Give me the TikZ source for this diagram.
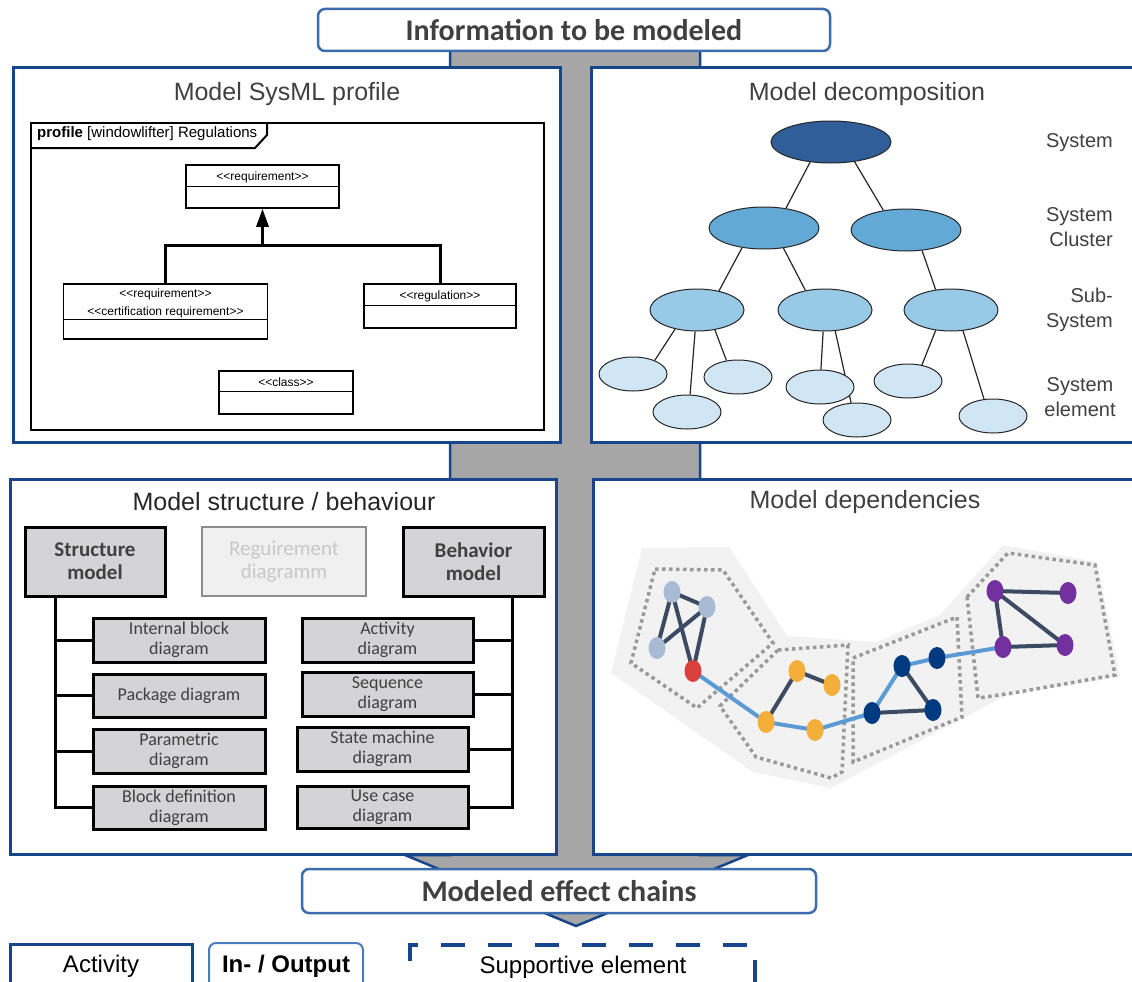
\documentclass[tikz,border=0pt]{standalone}
\usepackage{fontspec}
\setmainfont{Liberation Sans}
\newfontfamily\carl{Carlito}
\newfontfamily\umlf{Liberation Sans}
\usetikzlibrary{shapes.geometric,arrows.meta}
\pgfdeclarelayer{back}
\pgfdeclarelayer{mid}
\pgfsetlayers{back,mid,main}
\definecolor{pblue}{HTML}{16458C}
\definecolor{tblue}{HTML}{3B6CAE}
\definecolor{lblue}{HTML}{4A7CC0}
\definecolor{spinec}{HTML}{A6A6A6}
\definecolor{ttext}{HTML}{404040}
\definecolor{lvlA}{HTML}{2F5E98}
\definecolor{lvlB}{HTML}{63A9D6}
\definecolor{lvlC}{HTML}{98C9E7}
\definecolor{lvlD}{HTML}{D0E6F5}
\definecolor{bgpoly}{HTML}{F2F2F2}
\definecolor{dotc}{HTML}{9A9A9A}
\definecolor{edgec}{HTML}{3C4A62}
\definecolor{pathc}{HTML}{5B9BD5}
\definecolor{nlb}{HTML}{A9BAD4}
\definecolor{nred}{HTML}{D9413F}
\definecolor{nor}{HTML}{F4AF3A}
\definecolor{ndb}{HTML}{003A80}
\definecolor{npu}{HTML}{7331A0}
\definecolor{sboxc}{HTML}{D4D4D6}
\definecolor{rqfill}{HTML}{F0F0F0}
\definecolor{rqtext}{HTML}{C8C8C8}
\begin{document}
\begin{tikzpicture}[x=1pt,y=-1pt,
  panel/.style={draw=pblue, line width=3pt, fill=white},
  ptitle/.style={inner sep=0pt, text=ttext, font=\fontsize{25}{30}\selectfont},
  infobox/.style={draw=tblue, line width=2.5pt, fill=white, rounded corners=7pt, inner sep=0pt,
     text=ttext, font=\carl\bfseries\fontsize{30}{34}\selectfont},
  umlbox/.style={draw=black, line width=1.5pt, fill=white, inner sep=0pt},
  umltext/.style={inner sep=0pt, align=center, font=\umlf\fontsize{12}{18}\selectfont},
  umlline/.style={draw=black, line width=1.5pt},
  genline/.style={draw=black, line width=3pt},
  tnode/.style={ellipse, draw=black!85, line width=1pt, inner sep=0pt},
  tedge/.style={draw=black!85, line width=1.2pt},
  tlabel/.style={inner sep=0pt, text=ttext, font=\fontsize{20}{25}\selectfont},
  mainbox/.style={draw=black, line width=3pt, fill=sboxc, inner sep=0pt, align=center, text=ttext,
     font=\carl\bfseries\fontsize{21}{23}\selectfont},
  subbox/.style={draw=black, line width=3pt, fill=sboxc, inner sep=0pt, align=center, text=ttext,
     font=\carl\fontsize{18}{20}\selectfont},
  busline/.style={draw=black, line width=3pt},
  dotpoly/.style={draw=dotc, line width=3.5pt, dash pattern=on 3.5pt off 3.5pt},
  dnode/.style={ellipse, inner sep=0pt, minimum width=17pt, minimum height=22pt},
  dedge/.style={draw=edgec, line width=4pt},
  pedge/.style={draw=pathc, line width=4pt},
  legtext/.style={inner sep=0pt, text=black, font=\fontsize{24}{28}\selectfont}
]
\useasboundingbox (0,0) rectangle (1132,982);

% ---------- background spine and panels ----------
\begin{pgfonlayer}{back}
\draw[draw=pblue, line width=2.5pt, fill=spinec] (450,40) -- (700,40) -- (700,855) -- (748,855)
   -- (576,926) -- (405,855) -- (450,855) -- cycle;
\draw[panel] (13,68) rectangle (560,442);
\draw[panel] (591,68) rectangle (1145,442);
\draw[panel] (10,479) rectangle (556,854);
\draw[panel] (593,479) rectangle (1145,854);
% dependency background
\fill[bgpoly] (642,548) -- (729,547) -- (787,636) -- (876,642) -- (940,615) -- (1003,545)
   -- (1097,562) -- (1120,677) -- (1007,695) -- (831,788) -- (753,772) -- (611,673) -- cycle;
\draw[dotpoly] (655,569) -- (723,570) -- (773,643) -- (697,708) -- (631,663) -- cycle;
\draw[dotpoly] (778,650) -- (848,645) -- (842,772) -- (831,778) -- (756,757) -- (720,706) -- cycle;
\draw[dotpoly] (853,658) -- (957,617) -- (962,717) -- (853,762) -- cycle;
\draw[dotpoly] (967,597) -- (1008,553) -- (1095,565) -- (1115,675) -- (1013,693) -- (978,698) -- cycle;
\end{pgfonlayer}

% ---------- top and bottom boxes ----------
\node[infobox, minimum width=512pt, minimum height=42pt] (info) at (574,30) {Information to be modeled};
\node[infobox, minimum width=514pt, minimum height=44pt] (chains) at (559,891) {Modeled effect chains};

% ---------- panel titles ----------
\node[ptitle] (t1) at (287,94) {Model SysML profile};
\node[ptitle] (t2) at (867,94) {Model decomposition};
\node[ptitle, text=black!85] (t3) at (284,502) {Model structure / behaviour};
\node[ptitle] (t4) at (865,502) {Model dependencies};

% ---------- Panel 1: SysML profile ----------
\draw[draw=black, line width=2.5pt] (31,123) rectangle (544,430);
\draw[draw=black, line width=2pt] (31,148) -- (255,148) -- (267,135) -- (267,123);
\node[anchor=west, inner sep=0pt, font=\umlf\fontsize{15}{18}\selectfont] (ftab) at (37,134)
   {\textbf{profile} [windowlifter] Regulations};
\node[umlbox, minimum width=153pt, minimum height=43pt] (req) at (262.5,186.5) {};
\node[umlbox, minimum width=204pt, minimum height=55pt] (cert) at (165.5,311.5) {};
\node[umlbox, minimum width=152pt, minimum height=44pt] (reg) at (440,306) {};
\node[umlbox, minimum width=134pt, minimum height=43pt] (cls) at (286,392.5) {};
\draw[umlline] ([yshift=-22pt]req.north west) -- ([yshift=-22pt]req.north east);
\draw[umlline] ([yshift=-36pt]cert.north west) -- ([yshift=-36pt]cert.north east);
\draw[umlline] ([yshift=-22pt]reg.north west) -- ([yshift=-22pt]reg.north east);
\draw[umlline] ([yshift=-21pt]cls.north west) -- ([yshift=-21pt]cls.north east);
\node[umltext] (reqt) at (262.5,177) {<<requirement>>};
\node[umltext] (certt) at (165.5,303) {<<requirement>>\\<<certification requirement>>};
\node[umltext] (regt) at (440,296) {<<regulation>>};
\node[umltext] (clst) at (286,382) {<<class>>};
\coordinate (gj) at (262.5,245);
\draw[genline] (cert.north) |- (reg.north |- gj) -- (reg.north);
\draw[genline, -{Triangle[length=18pt,width=12pt]}] (gj) -- (req.south);

% ---------- Panel 2: decomposition ----------
\node[tnode, fill=lvlA, minimum width=120pt, minimum height=42pt] (sys) at (831,142) {};
\node[tnode, fill=lvlB, minimum width=110pt, minimum height=42pt] (cl1) at (764,228) {};
\node[tnode, fill=lvlB, minimum width=110pt, minimum height=42pt] (cl2) at (906,230) {};
\node[tnode, fill=lvlC, minimum width=94pt, minimum height=42pt] (sb1) at (697,310) {};
\node[tnode, fill=lvlC, minimum width=94pt, minimum height=42pt] (sb2) at (825,310) {};
\node[tnode, fill=lvlC, minimum width=94pt, minimum height=42pt] (sb3) at (951,310) {};
\node[tnode, fill=lvlD, minimum width=68pt, minimum height=34pt] (el1) at (633,374) {};
\node[tnode, fill=lvlD, minimum width=68pt, minimum height=34pt] (el2) at (687,412) {};
\node[tnode, fill=lvlD, minimum width=68pt, minimum height=34pt] (el3) at (738,377) {};
\node[tnode, fill=lvlD, minimum width=68pt, minimum height=34pt] (el4) at (820,387) {};
\node[tnode, fill=lvlD, minimum width=68pt, minimum height=34pt] (el5) at (857,420) {};
\node[tnode, fill=lvlD, minimum width=68pt, minimum height=34pt] (el6) at (908,381) {};
\node[tnode, fill=lvlD, minimum width=68pt, minimum height=34pt] (el7) at (993,416) {};
\begin{pgfonlayer}{mid}
\draw[tedge] (sys.224) -- (cl1.42);
\draw[tedge] (sys.320) -- (cl2.139);
\draw[tedge] (cl1.222) -- (sb1.41);
\draw[tedge] (cl1.314) -- (sb2.135);
\draw[tedge] (cl2.308) -- (sb3.127);
\draw[tedge] (sb1.221) -- (el1.32);
\draw[tedge] (sb1.265) -- (el2.80);
\draw[tedge] (sb1.312) -- (el3.125);
\draw[tedge] (sb2.265) -- (el4.87);
\draw[tedge] (sb2.296) -- (el5.109);
\draw[tedge] (sb3.233) -- (el6.49);
\draw[tedge] (sb3.300) -- (el7.118);
\end{pgfonlayer}
\node[tlabel, anchor=east] (lsys) at (1113,143) {System};
\node[tlabel, anchor=east, align=right] (lclu) at (1113,227) {System\\Cluster};
\node[tlabel, anchor=east, align=right] (lsub) at (1113,310) {Sub-\\System};
\node[tlabel, align=center] (lele) at (1080,397) {System\\element};

% ---------- Panel 3: structure / behaviour ----------
\node[mainbox, minimum width=140pt, minimum height=69pt] (smod) at (95,561.5) {Structure\\model};
\node[mainbox, draw=black!45, line width=2pt, fill=rqfill, text=rqtext, font=\carl\fontsize{21}{23}\selectfont,
   minimum width=164pt, minimum height=69pt] (rdiag) at (284,561.5) {Reguirement\\diagramm};
\node[mainbox, minimum width=141pt, minimum height=69pt] (bmod) at (473.5,561.5) {Behavior\\model};
\node[subbox, minimum width=172pt, minimum height=44pt] (ibd) at (179,640) {Internal block\\diagram};
\node[subbox, minimum width=172pt, minimum height=43pt] (pkg) at (179,695.5) {Package diagram};
\node[subbox, minimum width=172pt, minimum height=44pt] (par) at (179,751) {Parametric\\diagram};
\node[subbox, minimum width=172pt, minimum height=43pt] (bdd) at (179,807.5) {Block definition\\diagram};
\node[subbox, minimum width=171pt, minimum height=44pt] (act) at (387.5,640) {Activity\\diagram};
\node[subbox, minimum width=171pt, minimum height=44pt] (seq) at (387.5,694) {Sequence\\diagram};
\node[subbox, minimum width=171pt, minimum height=44pt] (stm) at (382.5,749) {State machine\\diagram};
\node[subbox, minimum width=171pt, minimum height=42pt] (ucd) at (382.5,807) {Use case\\diagram};
\coordinate (lbus) at (57,596);
\coordinate (rbus) at (511,596);
\begin{pgfonlayer}{mid}
\draw[busline] ([xshift=32pt]smod.south west) |- (bdd.west);
\draw[busline] (ibd.west) -- (ibd.west -| lbus);
\draw[busline] (pkg.west) -- (pkg.west -| lbus);
\draw[busline] (par.west) -- (par.west -| lbus);
\draw[busline] ([xshift=-33pt]bmod.south east) |- (ucd.east);
\draw[busline] (act.east) -- (act.east -| rbus);
\draw[busline] (seq.east) -- (seq.east -| rbus);
\draw[busline] (stm.east) -- (stm.east -| rbus);
\end{pgfonlayer}

% ---------- Panel 4: dependencies ----------
\node[dnode, fill=nlb] (lb1) at (672,592) {};
\node[dnode, fill=nlb] (lb2) at (707,607) {};
\node[dnode, fill=nlb] (lb3) at (657,648) {};
\node[dnode, fill=nred] (rd) at (693,671) {};
\node[dnode, fill=nor] (o1) at (797,671) {};
\node[dnode, fill=nor] (o2) at (832,685) {};
\node[dnode, fill=nor] (o3) at (766,722) {};
\node[dnode, fill=nor] (o4) at (815,730) {};
\node[dnode, fill=ndb] (d1) at (872,713) {};
\node[dnode, fill=ndb] (d2) at (902,666) {};
\node[dnode, fill=ndb] (d3) at (937,658) {};
\node[dnode, fill=ndb] (d4) at (933,710) {};
\node[dnode, fill=npu] (p1) at (995,591) {};
\node[dnode, fill=npu] (p2) at (1068,593) {};
\node[dnode, fill=npu] (p3) at (1003,647) {};
\node[dnode, fill=npu] (p4) at (1065,645) {};
\begin{pgfonlayer}{mid}
\draw[dedge] (lb1.center) -- (lb2.center);
\draw[dedge] (lb1.center) -- (lb3.center);
\draw[dedge] (lb3.center) -- (lb2.center);
\draw[dedge] (lb1.center) -- (rd.center);
\draw[dedge] (lb2.center) -- (rd.center);
\draw[pedge] (rd.center) -- (o3.center) -- (o4.center) -- (d1.center) -- (d2.center) -- (d3.center) -- (p3.center);
\draw[dedge] (o3.center) -- (o1.center) -- (o2.center);
\draw[dedge] (d2.center) -- (d4.center) -- (d1.center);
\draw[dedge] (p2.center) -- (p1.center) -- (p3.center) -- (p4.center) -- (p1.center);
\end{pgfonlayer}

% ---------- legend ----------
\draw[draw=pblue, line width=3pt] (10,1000) -- (10,944) -- (192,944) -- (192,1000);
\node[legtext] (lact) at (101,966) {Activity};
\draw[draw=lblue, line width=2pt, rounded corners=7pt] (209,1000) -- (209,943) -- (363,943) -- (363,1000);
\node[legtext, font=\bfseries\fontsize{24}{28}\selectfont] (lio) at (286,966) {In- / Output};
\draw[draw=pblue, line width=3.5pt, dash pattern=on 24pt off 23pt, dash phase=8pt] (410,1000) -- (410,945) -- (755,945) -- (755,1000);
\node[legtext] (lsup) at (583,967) {Supportive element};
\end{tikzpicture}
\end{document}
